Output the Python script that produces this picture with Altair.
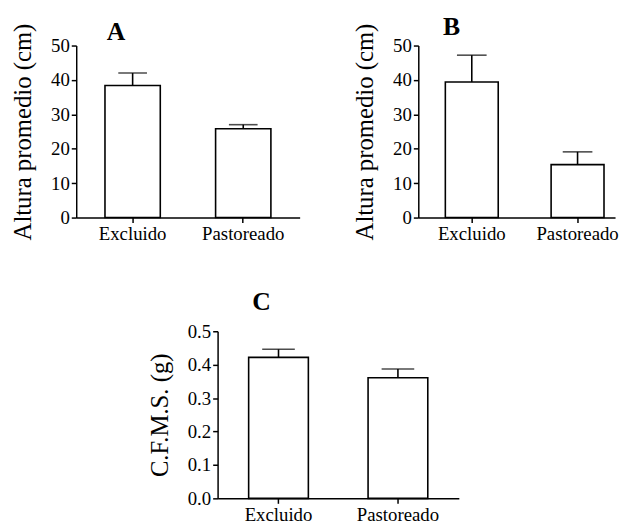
import altair as alt
import pandas as pd

categories = ["Excluido", "Pastoreado"]

a_mean = [38.4, 25.8]
a_upper = [42.0, 27.0]

b_mean = [39.4, 15.4]
b_upper = [47.2, 19.1]

c_mean = [0.422, 0.361]
c_upper = [0.446, 0.387]

FONT = "Liberation Serif"


def panel(letter, means, uppers, ytitle, ydomain, yvalues, yformat,
          width, height, pad_outer, align, cap, title_dx, title_offset, title_dy):
    df = pd.DataFrame({"cat": categories, "mean": means, "upper": uppers})
    xaxis = alt.Axis(title=None, labelAngle=0, labelFont=FONT, labelFontSize=19,
                     labelColor="black", domainColor="black", domainWidth=1.5,
                     tickColor="black", tickWidth=1.5, tickSize=5, labelPadding=2)
    xscale = alt.Scale(paddingInner=0.5, paddingOuter=pad_outer, align=align)
    yscale = alt.Scale(domain=ydomain, nice=False, zero=True)
    yaxis = alt.Axis(title=ytitle, values=yvalues, format=yformat, grid=False,
                     labelOverlap=False, labelFlush=False,
                     labelFont=FONT, labelFontSize=19, labelColor="black",
                     titleFont=FONT, titleFontSize=25, titleFontWeight="normal",
                     titleColor="black", titlePadding=15,
                     domainColor="black", domainWidth=1.5, tickColor="black",
                     tickWidth=1.5, tickSize=5, labelPadding=2)

    def xenc():
        return alt.X("cat:N", sort=categories, scale=xscale, axis=xaxis)

    base = alt.Chart(df)
    bars = base.mark_bar(fill="white", stroke="black", strokeWidth=1.6).encode(
        x=xenc(), y=alt.Y("mean:Q", scale=yscale, axis=yaxis)
    )
    rule = base.mark_rule(color="black", strokeWidth=1.6).encode(
        x=xenc(), y=alt.Y("mean:Q", scale=yscale, axis=yaxis), y2="upper:Q"
    )
    tick = base.mark_tick(color="black", thickness=1.6, size=cap).encode(
        x=xenc(), y=alt.Y("upper:Q", scale=yscale, axis=yaxis)
    )
    return alt.layer(bars, rule, tick).properties(
        width=width, height=height,
        title=alt.TitleParams(text=letter, anchor="start", dx=title_dx,
                              dy=title_dy, offset=title_offset, font=FONT,
                              fontSize=26, fontWeight="bold", color="black",
                              frame="group", baseline="alphabetic"),
    )


chart_a = panel("A", a_mean, a_upper, "Altura promedio (cm)", [0, 50],
                [0, 10, 20, 30, 40, 50], "d", 226, 174, 0.26, 0.5, 29, 31, 5, 48)
chart_b = panel("B", b_mean, b_upper, "Altura promedio (cm)", [0, 50],
                [0, 10, 20, 30, 40, 50], "d", 199, 174, 0.18, 0.71, 30, 25, 10, 48)
chart_c = panel("C", c_mean, c_upper, "C.F.M.S. (g)", [0, 0.5],
                [0, 0.1, 0.2, 0.3, 0.4, 0.5], ".1f", 244, 169, 0.26, 0.5, 33, 35, 22, 35)


def spacer(w):
    return alt.Chart(pd.DataFrame({"v": [0]})).mark_text(text="").encode(
        text=alt.value("")
    ).properties(width=w, height=10)


top_row = alt.hconcat(chart_a, chart_b, spacing=54)
bottom_row = alt.hconcat(spacer(72), chart_c, spacing=0)

chart = alt.vconcat(top_row, bottom_row, spacing=46).properties(
    padding={"left": 3, "top": 3, "right": 0, "bottom": 0},
    background="white",
).configure_view(stroke=None)

chart.save("out.html", embed_options={"renderer": "svg", "actions": False})
